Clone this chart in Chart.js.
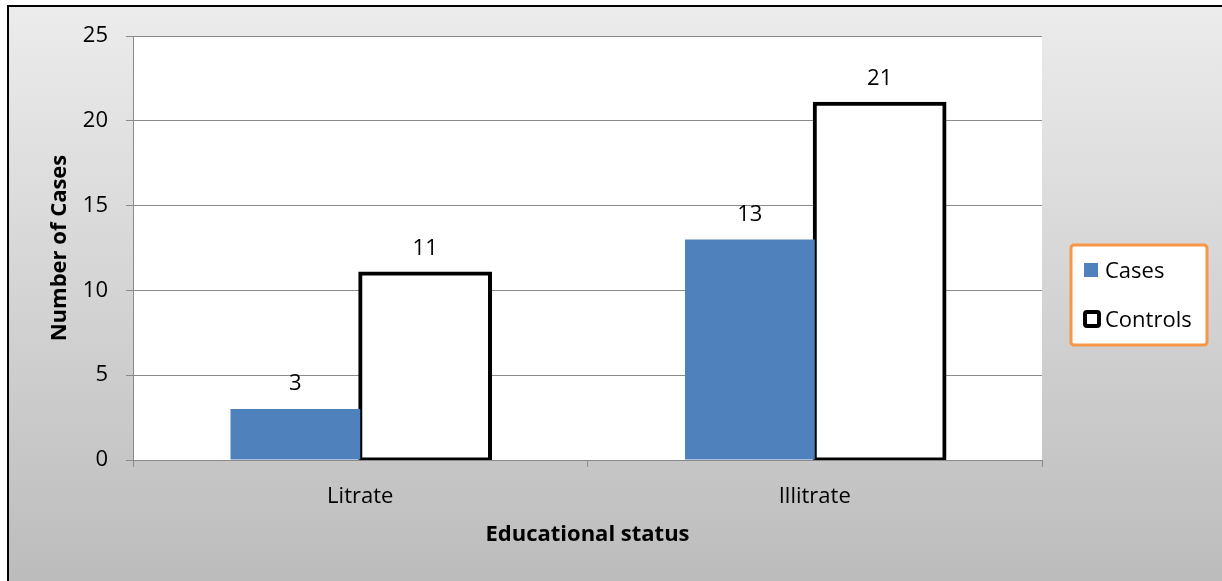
<!DOCTYPE html>
<html>
<head>
<meta charset="utf-8">
<script src="https://cdn.jsdelivr.net/npm/chart.js@4"></script>
<style>
  html, body { margin: 0; padding: 0; background: #fff; }
  #wrap { position: relative; width: 1222px; height: 581px; }
</style>
</head>
<body>
<div id="wrap"><canvas id="eduChart" width="1222" height="581"></canvas></div>
<script>
// educational status of cases vs controls
const categories = ['Litrate', 'Illitrate'];
const casesCounts = [3, 13];
const controlsCounts = [11, 21];
const seriesNames = ['Cases', 'Controls'];
const yTicks = [0, 5, 10, 15, 20, 25];

const FONT = '"Open Sans", Lato, sans-serif';
const FSIZE = 22;
const GRID = '#8a8a8a';

// gray gradient panel with a black frame, white plot area
const panelBg = {
    id: 'panelBg',
    beforeDraw(chart) {
        const ctx = chart.ctx;
        const w = chart.width, h = chart.height;
        ctx.save();
        ctx.fillStyle = '#fff';
        ctx.fillRect(0, 0, w, h);
        const g = ctx.createLinearGradient(0, 6, 0, h);
        g.addColorStop(0, '#ececec');
        g.addColorStop(1, '#bcbcbc');
        ctx.fillStyle = g;
        ctx.fillRect(8, 6, w - 8, h - 6);
        ctx.fillStyle = '#000';
        ctx.fillRect(7, 5, w - 7, 2);
        ctx.fillRect(7, 5, 2, h - 5);
        const a = chart.chartArea;
        ctx.fillStyle = '#fff';
        ctx.fillRect(a.left, a.top, a.right - a.left, a.bottom - a.top);
        ctx.restore();
    }
};

// value labels above every bar
const barValues = {
    id: 'barValues',
    afterDatasetsDraw(chart) {
        const ctx = chart.ctx;
        ctx.save();
        ctx.font = FSIZE + 'px ' + FONT;
        ctx.fillStyle = '#000';
        ctx.textAlign = 'center';
        ctx.textBaseline = 'middle';
        chart.data.datasets.forEach((ds, i) => {
            chart.getDatasetMeta(i).data.forEach((bar, j) => {
                ctx.fillText(String(ds.data[j]), bar.x, bar.y - 25);
            });
        });
        ctx.restore();
    }
};

// boxed legend to the right of the plot
const boxLegend = {
    id: 'boxLegend',
    afterDraw(chart) {
        const ctx = chart.ctx;
        const x = 1071, y = 245, w = 136, h = 100;
        ctx.save();
        ctx.fillStyle = '#fff';
        ctx.strokeStyle = '#f79646';
        ctx.lineWidth = 3;
        ctx.beginPath();
        ctx.roundRect(x, y, w, h, 3);
        ctx.fill();
        ctx.stroke();

        const rowY = [270, 319];
        ctx.font = FSIZE + 'px ' + FONT;
        ctx.textBaseline = 'middle';
        ctx.textAlign = 'left';
        chart.data.datasets.forEach((ds, i) => {
            const cy = rowY[i];
            if (ds.borderWidth) {
                ctx.fillStyle = '#fff';
                ctx.strokeStyle = ds.borderColor;
                ctx.lineWidth = 4;
                ctx.beginPath();
                ctx.roundRect(1085, cy - 7, 14, 14, 2);
                ctx.fill();
                ctx.stroke();
            } else {
                ctx.fillStyle = ds.backgroundColor;
                ctx.fillRect(1084, cy - 7, 14, 14);
            }
            ctx.fillStyle = '#000';
            ctx.fillText(ds.label, 1105, cy + 2);
        });
        ctx.restore();
    }
};

new Chart(document.getElementById('eduChart'), {
    type: 'bar',
    data: {
        labels: categories,
        datasets: [
            {
                label: seriesNames[0],
                data: casesCounts,
                backgroundColor: '#4f81bd',
                borderWidth: 0,
                inflateAmount: 0
            },
            {
                label: seriesNames[1],
                data: controlsCounts,
                backgroundColor: '#fff',
                borderColor: '#000',
                borderWidth: 4,
                borderSkipped: false,
                inflateAmount: 2
            }
        ]
    },
    options: {
        responsive: false,
        animation: false,
        events: [],
        categoryPercentage: 0.571,
        barPercentage: 1,
        layout: { padding: { left: 36, top: 36, right: 180, bottom: 33 } },
        plugins: {
            legend: { display: false },
            tooltip: { enabled: false },
            title: { display: false }
        },
        scales: {
            x: {
                offset: true,
                grid: { drawOnChartArea: false, color: GRID, tickLength: 7, offset: true },
                border: { color: GRID },
                ticks: { color: '#000', font: { family: FONT, size: FSIZE }, padding: 17 },
                title: {
                    display: true,
                    text: 'Educational status',
                    color: '#000',
                    font: { family: FONT, size: FSIZE, weight: 'bold' },
                    padding: { top: 0, bottom: 0 }
                },
                afterFit(scale) { scale.height = 88; }
            },
            y: {
                min: 0,
                max: 25,
                afterBuildTicks(scale) { scale.ticks = yTicks.map(v => ({ value: v })); },
                grid: { color: GRID, tickLength: 7 },
                border: { color: GRID },
                ticks: { color: '#000', font: { family: FONT, size: FSIZE }, padding: 18 },
                title: {
                    display: true,
                    text: 'Number of Cases',
                    color: '#000',
                    font: { family: FONT, size: FSIZE, weight: 'bold' },
                    padding: { top: 11, bottom: 0 }
                },
                afterFit(scale) { scale.width = 97; }
            }
        }
    },
    plugins: [panelBg, barValues, boxLegend]
});
</script>
</body>
</html>
